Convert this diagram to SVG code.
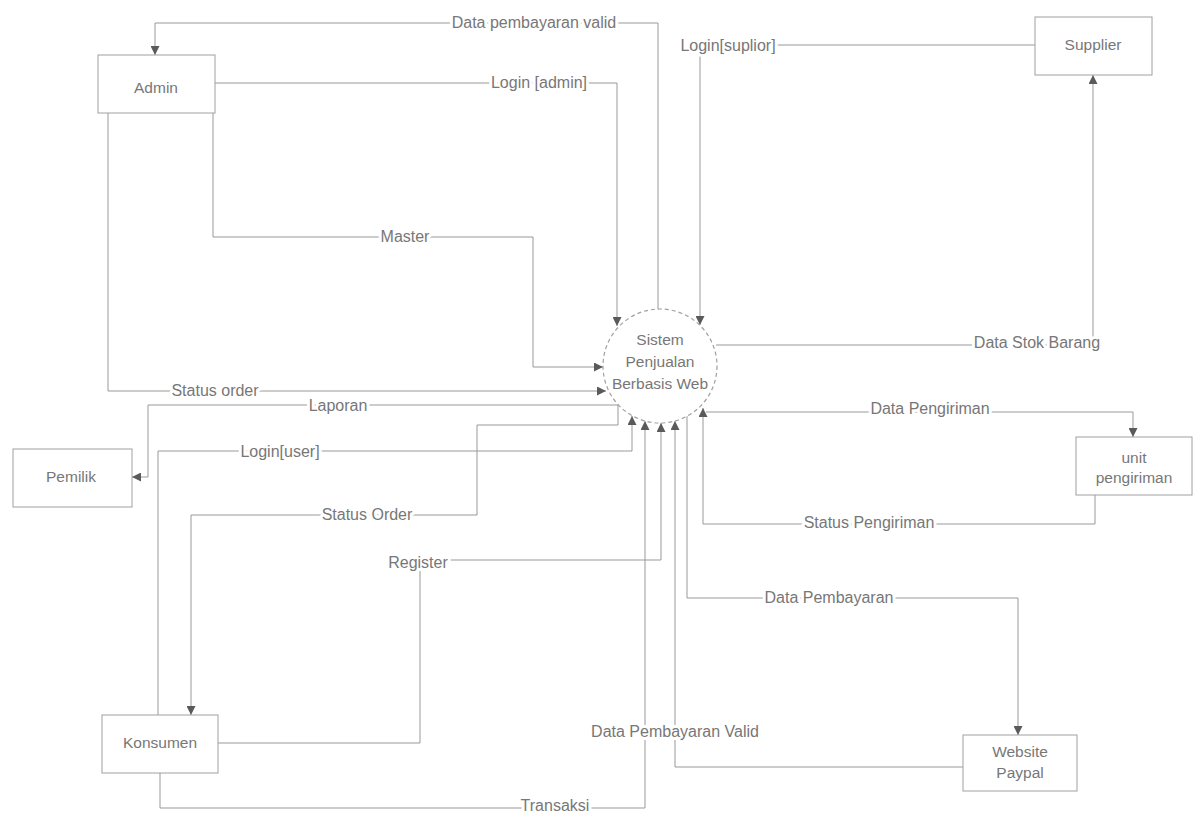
<svg xmlns="http://www.w3.org/2000/svg" width="1200" height="817" viewBox="0 0 1200 817">
<style>
  .box{fill:#fff;stroke:#a0a0a0;stroke-width:1}
  .proc{fill:#fff;stroke:#a0a0a0;stroke-width:1.2;stroke-dasharray:4 3}
  .flow{fill:none;stroke:#999;stroke-width:1;marker-end:url(#arr)}
  .t{font-family:"Liberation Sans",Arial,sans-serif;font-size:15.5px;fill:#777;text-anchor:middle}
  .lbl{font-family:"Liberation Sans",Arial,sans-serif;font-size:16px;fill:#777;text-anchor:middle;stroke:#fff;stroke-width:6px;stroke-linejoin:round;paint-order:stroke}
</style>
<defs>
  <marker id="arr" viewBox="0 0 10 10" refX="10" refY="5" markerWidth="9" markerHeight="9" orient="auto" markerUnits="userSpaceOnUse">
    <path d="M0,0 L10,5 L0,10 z" fill="#5a5a5a"/>
  </marker>
</defs>
<rect width="1200" height="817" fill="#fff"/>

<g id="connectors">
  <path id="f-data-pembayaran-valid-admin" class="flow" d="M658,309 V23 H155 V55"/>
  <path id="f-login-admin" class="flow" d="M215,83 H617 V326"/>
  <path id="f-login-supplier" class="flow" d="M1035,45 H700 V325"/>
  <path id="f-master" class="flow" d="M213,113 V237 H533 V367 H603"/>
  <path id="f-status-order-admin" class="flow" d="M108,113 V391 H606"/>
  <path id="f-laporan" class="flow" d="M618,405 H148 V477 H132"/>
  <path id="f-login-user" class="flow" d="M158,715 V451 H632 V416"/>
  <path id="f-status-order-konsumen" class="flow" d="M618,405 V425 H477 V515 H191 V715"/>
  <path id="f-register" class="flow" d="M218,743 H420 V560 H661 V423"/>
  <path id="f-transaksi" class="flow" d="M160,773 V808 H645 V421"/>
  <path id="f-data-pembayaran-valid" class="flow" d="M963,767 H675 V421"/>
  <path id="f-data-pembayaran" class="flow" d="M687,416 V598 H1018 V735"/>
  <path id="f-status-pengiriman" class="flow" d="M1095,495 V524 H703 V408"/>
  <path id="f-data-pengiriman" class="flow" d="M706,412 H1133 V437"/>
  <path id="f-data-stok" class="flow" d="M716,345 H1093 V75"/>

  <text class="lbl" x="534" y="28">Data pembayaran valid</text>
  <text class="lbl" x="539" y="88">Login [admin]</text>
  <text class="lbl" x="728" y="51">Login[suplior]</text>
  <text class="lbl" x="405" y="242">Master</text>
  <text class="lbl" x="215" y="396">Status order</text>
  <text class="lbl" x="338" y="411">Laporan</text>
  <text class="lbl" x="280" y="457">Login[user]</text>
  <text class="lbl" x="367" y="520">Status Order</text>
  <text class="lbl" x="418" y="568">Register</text>
  <text class="lbl" x="555" y="811">Transaksi</text>
  <text class="lbl" x="675" y="737">Data Pembayaran Valid</text>
  <text class="lbl" x="829" y="603">Data Pembayaran</text>
  <text class="lbl" x="869" y="528">Status Pengiriman</text>
  <text class="lbl" x="930" y="414">Data Pengiriman</text>
  <text class="lbl" x="1037" y="348">Data Stok Barang</text>
</g>

<g id="admin">
  <rect class="box" x="98" y="55" width="117" height="58"/>
  <text class="t" x="156" y="93">Admin</text>
</g>
<g id="supplier">
  <rect class="box" x="1035" y="17" width="117" height="58"/>
  <text class="t" x="1093" y="50">Supplier</text>
</g>
<g id="pemilik">
  <rect class="box" x="13" y="449" width="119" height="58"/>
  <text class="t" x="71" y="482">Pemilik</text>
</g>
<g id="konsumen">
  <rect class="box" x="102" y="715" width="116" height="58"/>
  <text class="t" x="160" y="748">Konsumen</text>
</g>
<g id="unit-pengiriman">
  <rect class="box" x="1076" y="437" width="116" height="58"/>
  <text class="t" x="1134" y="463">unit</text>
  <text class="t" x="1134" y="483">pengiriman</text>
</g>
<g id="website-paypal">
  <rect class="box" x="963" y="735" width="114" height="56"/>
  <text class="t" x="1020" y="757">Website</text>
  <text class="t" x="1020" y="778">Paypal</text>
</g>
<g id="sistem">
  <circle class="proc" cx="660" cy="366" r="57"/>
  <text class="t" x="660" y="345">Sistem</text>
  <text class="t" x="660" y="367">Penjualan</text>
  <text class="t" x="660" y="389">Berbasis Web</text>
</g>
</svg>
